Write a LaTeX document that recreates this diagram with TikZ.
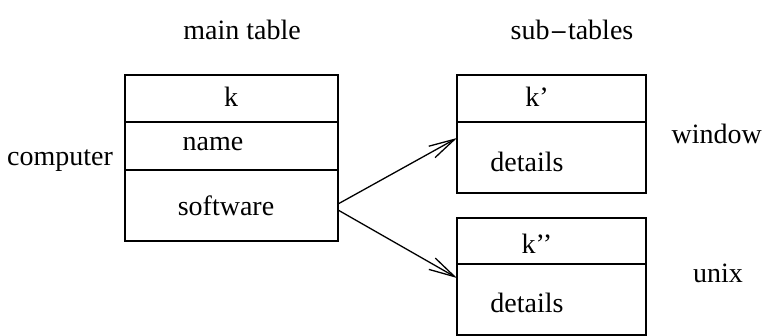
\documentclass[tikz,border=0pt]{standalone}
\usepackage{fontspec}
\setmainfont{Liberation Serif}
\usetikzlibrary{arrows.meta}
\begin{document}
\begin{tikzpicture}[x=1pt,y=-1pt,
  cell/.style={draw,line width=1.3pt,inner sep=0pt,outer sep=0pt,minimum width=#1},
  lbl/.style={inner sep=0pt,font=\fontsize{28}{32}\selectfont},
  link/.style={line width=1.3pt,-{Straight Barb[length=26pt,width=13pt,line width=1.3pt]}}]
\useasboundingbox (0,0) rectangle (763,336);
% main table
\node[cell=213pt,minimum height=47pt] (mk) at (231.5,98.5) {};
\node[cell=213pt,minimum height=48pt] (mname) at (231.5,146) {};
\node[cell=213pt,minimum height=71pt] (msoft) at (231.5,205.5) {};
% sub-table 1
\node[cell=189pt,minimum height=47pt] (s1k) at (551.5,98.5) {};
\node[cell=189pt,minimum height=71pt] (s1d) at (551.5,157.5) {};
% sub-table 2
\node[cell=189pt,minimum height=46pt] (s2k) at (551.5,241) {};
\node[cell=189pt,minimum height=71pt] (s2d) at (551.5,299.5) {};
% texts
\node[lbl] (tmain) at (242,30) {main table};
\node[lbl] (tsub) at (572,30) {sub{\fontspec{DejaVu Serif}\fontsize{22}{26}\selectfont−}tables};
\node[lbl] (tk) at (231,97) {k};
\node[lbl] (tname) at (213,144) {name};
\node[lbl] (tsoft) at (226,206) {software};
\node[lbl] (tk1) at (537,97) {k’};
\node[lbl] (td1) at (527,162) {details};
\node[lbl] (tk2) at (537,244) {k’’};
\node[lbl] (td2) at (527,303) {details};
\node[lbl] (tcomp) at (60,161) {computer};
\node[lbl,anchor=east] (twin) at (762,134) {window};
\node[lbl] (tunix) at (718,273) {unix};
% connectors
\coordinate (a1) at ([yshift=1.5pt]msoft.east);
\coordinate (a2) at ([yshift=-4.5pt]msoft.east);
\draw[link] (a1) -- ([yshift=19.5pt]s1d.west);
\draw[link] (a2) -- ([yshift=21.5pt]s2d.west);
\end{tikzpicture}
\end{document}
